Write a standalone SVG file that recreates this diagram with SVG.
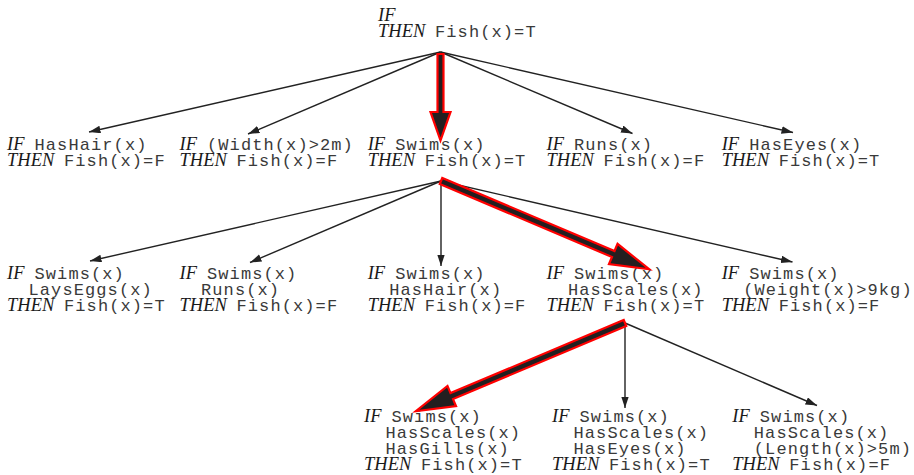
<svg xmlns="http://www.w3.org/2000/svg" width="914" height="475" viewBox="0 0 914 475">
<style>
text{fill:#1a1a1a}
.it{font-family:"Liberation Serif","Times New Roman",serif;font-style:italic;font-size:18.5px;letter-spacing:0;fill:#1a1a1a}
.mo{font-family:"Liberation Mono","Courier New",monospace;font-size:17px;letter-spacing:1.1px;fill:#3a3a3a}
.thin{stroke:#222;stroke-width:1.4;fill:none;marker-end:url(#ah)}
.thick{fill:#231f20;stroke:#ff0000;stroke-width:2.2;stroke-linejoin:miter}
</style>
<defs>
<marker id="ah" markerUnits="userSpaceOnUse" markerWidth="12" markerHeight="8" refX="11.5" refY="3.8" orient="auto">
<path d="M0,0 L11.5,3.8 L0,7.6 z" fill="#222"/>
</marker>
</defs>
<rect width="914" height="475" fill="#fff"/>
<g id="n0">
<text x="378" y="20.5" class="it">IF</text>
<text y="36.5"><tspan class="it" x="378">THEN</tspan><tspan class="mo" x="435">Fish(x)=T</tspan></text>
</g>
<g id="n1a">
<text y="150"><tspan class="it" x="7">IF</tspan><tspan class="mo" x="34.5">HasHair(x)</tspan></text>
<text y="165.7"><tspan class="it" x="7">THEN</tspan><tspan class="mo" x="64">Fish(x)=F</tspan></text>
</g>
<g id="n1b">
<text y="150"><tspan class="it" x="179.5">IF</tspan><tspan class="mo" x="207">(Width(x)&gt;2m)</tspan></text>
<text y="165.7"><tspan class="it" x="179.5">THEN</tspan><tspan class="mo" x="236.5">Fish(x)=F</tspan></text>
</g>
<g id="n1c">
<text y="150"><tspan class="it" x="367.7">IF</tspan><tspan class="mo" x="395.2">Swims(x)</tspan></text>
<text y="165.7"><tspan class="it" x="367.7">THEN</tspan><tspan class="mo" x="424.7">Fish(x)=T</tspan></text>
</g>
<g id="n1d">
<text y="150"><tspan class="it" x="546.5">IF</tspan><tspan class="mo" x="574">Runs(x)</tspan></text>
<text y="165.7"><tspan class="it" x="546.5">THEN</tspan><tspan class="mo" x="603.5">Fish(x)=F</tspan></text>
</g>
<g id="n1e">
<text y="150"><tspan class="it" x="721.7">IF</tspan><tspan class="mo" x="749.2">HasEyes(x)</tspan></text>
<text y="165.7"><tspan class="it" x="721.7">THEN</tspan><tspan class="mo" x="778.7">Fish(x)=T</tspan></text>
</g>
<g id="n2a">
<text y="279"><tspan class="it" x="7">IF</tspan><tspan class="mo" x="34.5">Swims(x)</tspan></text>
<text y="295" class="mo" x="28.5">LaysEggs(x)</text>
<text y="311"><tspan class="it" x="7">THEN</tspan><tspan class="mo" x="64">Fish(x)=T</tspan></text>
</g>
<g id="n2b">
<text y="279"><tspan class="it" x="179.5">IF</tspan><tspan class="mo" x="207">Swims(x)</tspan></text>
<text y="295" class="mo" x="201">Runs(x)</text>
<text y="311"><tspan class="it" x="179.5">THEN</tspan><tspan class="mo" x="236.5">Fish(x)=F</tspan></text>
</g>
<g id="n2c">
<text y="279"><tspan class="it" x="367.7">IF</tspan><tspan class="mo" x="395.2">Swims(x)</tspan></text>
<text y="295" class="mo" x="389.2">HasHair(x)</text>
<text y="311"><tspan class="it" x="367.7">THEN</tspan><tspan class="mo" x="424.7">Fish(x)=F</tspan></text>
</g>
<g id="n2d">
<text y="279"><tspan class="it" x="546.5">IF</tspan><tspan class="mo" x="574">Swims(x)</tspan></text>
<text y="295" class="mo" x="568">HasScales(x)</text>
<text y="311"><tspan class="it" x="546.5">THEN</tspan><tspan class="mo" x="603.5">Fish(x)=T</tspan></text>
</g>
<g id="n2e">
<text y="279"><tspan class="it" x="721.7">IF</tspan><tspan class="mo" x="749.2">Swims(x)</tspan></text>
<text y="295" class="mo" x="743.2">(Weight(x)&gt;9kg)</text>
<text y="311"><tspan class="it" x="721.7">THEN</tspan><tspan class="mo" x="778.7">Fish(x)=F</tspan></text>
</g>
<g id="n3a">
<text y="422"><tspan class="it" x="364">IF</tspan><tspan class="mo" x="391.5">Swims(x)</tspan></text>
<text y="438" class="mo" x="385.5">HasScales(x)</text>
<text y="454" class="mo" x="385.5">HasGills(x)</text>
<text y="470"><tspan class="it" x="364">THEN</tspan><tspan class="mo" x="421">Fish(x)=T</tspan></text>
</g>
<g id="n3b">
<text y="422"><tspan class="it" x="552">IF</tspan><tspan class="mo" x="579.5">Swims(x)</tspan></text>
<text y="438" class="mo" x="573.5">HasScales(x)</text>
<text y="454" class="mo" x="573.5">HasEyes(x)</text>
<text y="470"><tspan class="it" x="552">THEN</tspan><tspan class="mo" x="609">Fish(x)=T</tspan></text>
</g>
<g id="n3c">
<text y="422"><tspan class="it" x="732.3">IF</tspan><tspan class="mo" x="759.8">Swims(x)</tspan></text>
<text y="438" class="mo" x="753.8">HasScales(x)</text>
<text y="454" class="mo" x="753.8">(Length(x)&gt;5m)</text>
<text y="470"><tspan class="it" x="732.3">THEN</tspan><tspan class="mo" x="789.3">Fish(x)=F</tspan></text>
</g>
<g id="connectors">
<line class="thin" x1="440.5" y1="52" x2="89" y2="132"/>
<line class="thin" x1="440.5" y1="52" x2="248" y2="134"/>
<line class="thin" x1="440.5" y1="52" x2="632.5" y2="133.5"/>
<line class="thin" x1="440.5" y1="52" x2="793" y2="132.5"/>
<line class="thin" x1="441" y1="181" x2="90" y2="261"/>
<line class="thin" x1="441" y1="181" x2="250" y2="262.5"/>
<line class="thin" x1="441" y1="181" x2="441" y2="266"/>
<line class="thin" x1="441" y1="181" x2="792.5" y2="262"/>
<line class="thin" x1="625" y1="323" x2="625" y2="408"/>
<line class="thin" x1="625" y1="323" x2="817" y2="405.5"/>
<polygon class="thick" points="443.5,54 443.5,112 450.5,112 440.5,140.5 430.5,112 437.5,112 437.5,54"/>
<polygon class="thick" points="439.73,183.99 611.98,256.99 608.96,264.13 649.16,269.22 617.54,243.87 614.52,251.01 442.27,178.01"/>
<polygon class="thick" points="626.26,326 453.04,399.06 456.05,406.2 415.84,411.22 447.5,385.93 450.51,393.07 623.74,320"/>
</g>
</svg>
